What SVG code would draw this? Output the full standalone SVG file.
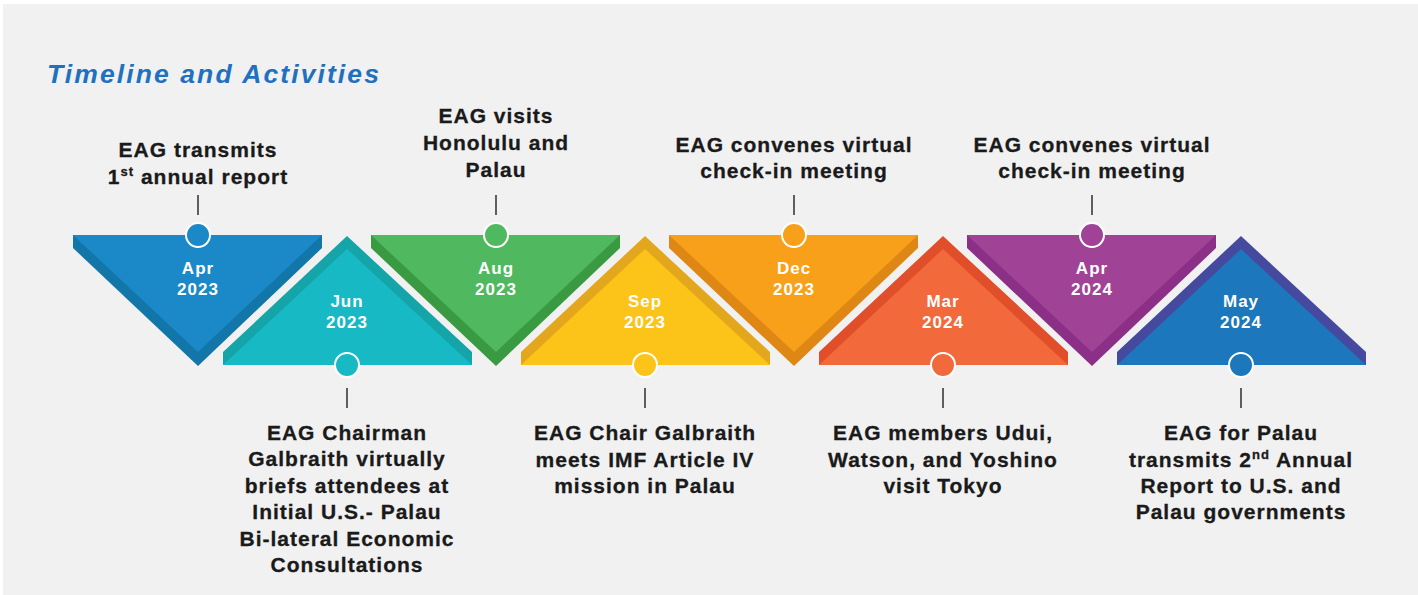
<svg xmlns="http://www.w3.org/2000/svg" xmlns:xlink="http://www.w3.org/1999/xlink" width="1418" height="595" viewBox="0 0 1418 595">
<style>
.lbl{font-family:"Liberation Sans",Arial,sans-serif;font-weight:bold;font-size:21px;letter-spacing:1px;fill:#1a1a1a;text-anchor:middle;stroke:#1a1a1a;stroke-width:0.3px}
.date{font-family:"Liberation Sans",Arial,sans-serif;font-weight:bold;font-size:17px;letter-spacing:1px;fill:#ffffff;text-anchor:middle}
.title{font-family:"Liberation Sans",Arial,sans-serif;font-weight:bold;font-style:italic;font-size:26.5px;letter-spacing:2.1px;fill:#1f70bf}
.tick{stroke:#3a3a3a;stroke-width:1.6}
.dot{stroke:#ffffff;stroke-width:2}
.sup{font-size:13px}
</style>
<defs>
<path id="dnDark" d="M-125,235 L124,235 L124,248 L0,366 L-125,248 Z"/>
<path id="dnLight" d="M-125,235 L124,235 L0,352 Z"/>
<path id="upDark" d="M-124,365 L-124,352 L0,236 L125,352 L125,365 Z"/>
<path id="upLight" d="M-124,365 L0,249 L125,365 Z"/>
</defs>
<rect x="0" y="0" width="1418" height="595" fill="#ffffff"/>
<rect x="3" y="4" width="1415" height="591" fill="#f1f1f1"/>
<text class="title" x="47" y="83">Timeline and Activities</text>

<g id="connectors">
<line class="tick" x1="198" y1="195" x2="198" y2="215"/>
<line class="tick" x1="496" y1="195" x2="496" y2="215"/>
<line class="tick" x1="794" y1="195" x2="794" y2="215"/>
<line class="tick" x1="1092" y1="195" x2="1092" y2="215"/>
<line class="tick" x1="347" y1="388" x2="347" y2="408"/>
<line class="tick" x1="645" y1="388" x2="645" y2="408"/>
<line class="tick" x1="943" y1="388" x2="943" y2="408"/>
<line class="tick" x1="1241" y1="388" x2="1241" y2="408"/>
</g>

<g id="apr2023">
<g transform="translate(198,0)">
<use xlink:href="#dnDark" fill="#1276a9"/>
<use xlink:href="#dnLight" fill="#1b89c8"/>
<circle class="dot" cx="0" cy="235" r="12" fill="#1b89c8"/>
<text class="date" x="0" y="274">Apr</text>
<text class="date" x="0" y="295">2023</text>
</g>
<text class="lbl" x="198" y="157">EAG transmits</text>
<text class="lbl" x="198" y="184">1<tspan class="sup" dy="-8">st</tspan><tspan dy="8"> annual report</tspan></text>
</g>

<g id="jun2023">
<g transform="translate(347,0)">
<use xlink:href="#upDark" fill="#15a5a9"/>
<use xlink:href="#upLight" fill="#17b9c5"/>
<circle class="dot" cx="0" cy="365" r="12" fill="#17b9c5"/>
<text class="date" x="0" y="307">Jun</text>
<text class="date" x="0" y="328">2023</text>
</g>
<text class="lbl" x="347" y="440">EAG Chairman</text>
<text class="lbl" x="347" y="466">Galbraith virtually</text>
<text class="lbl" x="347" y="493">briefs attendees at</text>
<text class="lbl" x="347" y="519">Initial U.S.- Palau</text>
<text class="lbl" x="347" y="546">Bi-lateral Economic</text>
<text class="lbl" x="347" y="572">Consultations</text>
</g>

<g id="aug2023">
<g transform="translate(496,0)">
<use xlink:href="#dnDark" fill="#3a9a41"/>
<use xlink:href="#dnLight" fill="#50b85f"/>
<circle class="dot" cx="0" cy="235" r="12" fill="#50b85f"/>
<text class="date" x="0" y="274">Aug</text>
<text class="date" x="0" y="295">2023</text>
</g>
<text class="lbl" x="496" y="123">EAG visits</text>
<text class="lbl" x="496" y="150">Honolulu and</text>
<text class="lbl" x="496" y="177">Palau</text>
</g>

<g id="sep2023">
<g transform="translate(645,0)">
<use xlink:href="#upDark" fill="#e3a71d"/>
<use xlink:href="#upLight" fill="#fcc318"/>
<circle class="dot" cx="0" cy="365" r="12" fill="#fcc318"/>
<text class="date" x="0" y="307">Sep</text>
<text class="date" x="0" y="328">2023</text>
</g>
<text class="lbl" x="645" y="440">EAG Chair Galbraith</text>
<text class="lbl" x="645" y="467">meets IMF Article IV</text>
<text class="lbl" x="645" y="493">mission in Palau</text>
</g>

<g id="dec2023">
<g transform="translate(794,0)">
<use xlink:href="#dnDark" fill="#de8714"/>
<use xlink:href="#dnLight" fill="#f9a01a"/>
<circle class="dot" cx="0" cy="235" r="12" fill="#f9a01a"/>
<text class="date" x="0" y="274">Dec</text>
<text class="date" x="0" y="295">2023</text>
</g>
<text class="lbl" x="794" y="152">EAG convenes virtual</text>
<text class="lbl" x="794" y="178">check-in meeting</text>
</g>

<g id="mar2024">
<g transform="translate(943,0)">
<use xlink:href="#upDark" fill="#e04e2a"/>
<use xlink:href="#upLight" fill="#f26a3b"/>
<circle class="dot" cx="0" cy="365" r="12" fill="#f26a3b"/>
<text class="date" x="0" y="307">Mar</text>
<text class="date" x="0" y="328">2024</text>
</g>
<text class="lbl" x="943" y="440">EAG members Udui,</text>
<text class="lbl" x="943" y="467">Watson, and Yoshino</text>
<text class="lbl" x="943" y="493">visit Tokyo</text>
</g>

<g id="apr2024">
<g transform="translate(1092,0)">
<use xlink:href="#dnDark" fill="#8c2f87"/>
<use xlink:href="#dnLight" fill="#a04397"/>
<circle class="dot" cx="0" cy="235" r="12" fill="#a04397"/>
<text class="date" x="0" y="274">Apr</text>
<text class="date" x="0" y="295">2024</text>
</g>
<text class="lbl" x="1092" y="152">EAG convenes virtual</text>
<text class="lbl" x="1092" y="178">check-in meeting</text>
</g>

<g id="may2024">
<g transform="translate(1241,0)">
<use xlink:href="#upDark" fill="#454a9f"/>
<use xlink:href="#upLight" fill="#1c77bc"/>
<circle class="dot" cx="0" cy="365" r="12" fill="#1c77bc"/>
<text class="date" x="0" y="307">May</text>
<text class="date" x="0" y="328">2024</text>
</g>
<text class="lbl" x="1241" y="440">EAG for Palau</text>
<text class="lbl" x="1241" y="467">transmits 2<tspan class="sup" dy="-8">nd</tspan><tspan dy="8"> Annual</tspan></text>
<text class="lbl" x="1241" y="493">Report to U.S. and</text>
<text class="lbl" x="1241" y="519">Palau governments</text>
</g>
</svg>
